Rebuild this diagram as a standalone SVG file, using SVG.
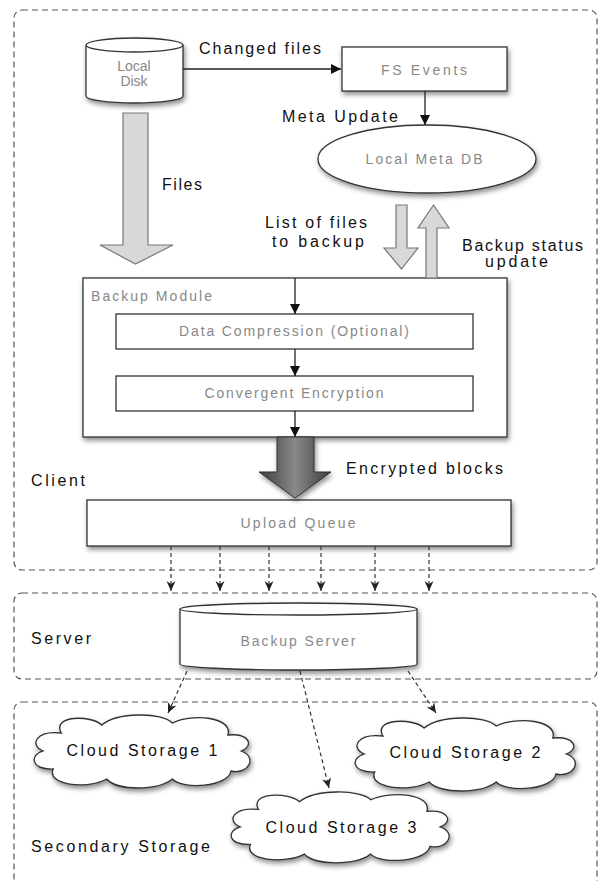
<svg xmlns="http://www.w3.org/2000/svg" width="599" height="881" viewBox="0 0 599 881">
<style>
.grp{fill:none;stroke:#555;stroke-width:1.2;stroke-dasharray:6 4}
.node{fill:#fff;stroke:#333;stroke-width:1.3}
.in{font-family:"Liberation Sans",Arial,sans-serif;font-size:14px;fill:#888;text-anchor:middle}
.lbl{font-family:"Liberation Sans",Arial,sans-serif;font-size:16px;fill:#111}
.lblc{font-family:"Liberation Sans",Arial,sans-serif;font-size:16px;fill:#111;text-anchor:middle}
.solid{stroke:#222;stroke-width:1.3;fill:none;marker-end:url(#ah)}
.dash{stroke:#333;stroke-width:1.2;fill:none;stroke-dasharray:4 3;marker-end:url(#dh)}
.fat{fill:#d8d8d8;stroke:#777;stroke-width:1.2}
</style>
<defs>
<filter id="sh" x="-20%" y="-20%" width="140%" height="150%">
<feDropShadow dx="1.5" dy="3" stdDeviation="2.5" flood-color="#000" flood-opacity="0.45"/>
</filter>
<marker id="ah" markerUnits="userSpaceOnUse" markerWidth="10" markerHeight="10" refX="10" refY="5" orient="auto">
<path d="M0,0 L10,5 L0,10 z" fill="#111"/>
</marker>
<marker id="dh" markerUnits="userSpaceOnUse" markerWidth="10" markerHeight="10" refX="10" refY="5" orient="auto">
<path d="M0,0.5 L10,5 L0,9.5 L3,5 z" fill="#222"/>
</marker>
<linearGradient id="dark" x1="0" y1="0" x2="1" y2="0">
<stop offset="0" stop-color="#3a3a3a"/>
<stop offset="0.5" stop-color="#8a8a8a"/>
<stop offset="1" stop-color="#3a3a3a"/>
</linearGradient>
<path id="cloud" d="M30,18 C20,0 60,0 70,10 C85,-3 130,-3 140,8 C160,-2 200,2 195,20 C215,18 222,30 208,36 C225,42 215,60 198,56 C195,72 150,75 140,64 C125,76 85,76 75,64 C55,75 15,70 22,54 C0,55 -2,40 12,36 C-2,30 5,15 30,18 Z"/>
</defs>
<rect width="599" height="881" fill="#fff"/>

<!-- groups -->
<g id="client-group">
<rect class="grp" x="14" y="10" width="583" height="560" rx="8"/>
<text class="lbl" x="31" y="486" textLength="54" lengthAdjust="spacing">Client</text>
</g>
<g id="server-group">
<rect class="grp" x="14" y="593" width="583" height="86" rx="8"/>
<text class="lbl" x="31" y="644" textLength="60" lengthAdjust="spacing">Server</text>
</g>
<g id="secondary-group">
<rect class="grp" x="14" y="702" width="583" height="200" rx="8"/>
<text class="lbl" x="31" y="852" textLength="179" lengthAdjust="spacing">Secondary Storage</text>
</g>

<!-- nodes -->
<g id="local-disk">
<path class="node" filter="url(#sh)" d="M86,45 A48.5,7 0 0 1 183,45 L183,96 A48.5,7 0 0 1 86,96 Z"/>
<path d="M86,45 A48.5,7 0 0 0 183,45" fill="none" stroke="#333" stroke-width="1.3"/>
<text class="in" x="134" y="71" font-size="13">Local</text>
<text class="in" x="134" y="86" font-size="13">Disk</text>
</g>
<g id="fs-events">
<rect class="node" filter="url(#sh)" x="342" y="47" width="165" height="44"/>
<text class="in" x="424" y="75" textLength="86" lengthAdjust="spacing">FS Events</text>
</g>
<g id="local-meta-db">
<ellipse class="node" filter="url(#sh)" cx="427" cy="159" rx="109" ry="34"/>
<text class="in" x="424" y="164" textLength="117" lengthAdjust="spacing">Local Meta DB</text>
</g>
<g id="backup-module">
<rect class="node" filter="url(#sh)" x="83" y="278" width="424" height="159"/>
<text class="in" x="91" y="301" style="text-anchor:start" textLength="121" lengthAdjust="spacing">Backup Module</text>
</g>
<g id="data-compression">
<rect class="node" x="116" y="314" width="357" height="35"/>
<text class="in" x="294" y="336" textLength="230" lengthAdjust="spacing">Data Compression (Optional)</text>
</g>
<g id="convergent-encryption">
<rect class="node" x="116" y="376" width="357" height="35"/>
<text class="in" x="294" y="398" textLength="179" lengthAdjust="spacing">Convergent Encryption</text>
</g>
<g id="upload-queue">
<rect class="node" filter="url(#sh)" x="87" y="500" width="424" height="46"/>
<text class="in" x="298" y="528" textLength="115" lengthAdjust="spacing">Upload Queue</text>
</g>
<g id="backup-server">
<path class="node" filter="url(#sh)" d="M180,609 A118.5,6 0 0 1 417,609 L417,664 A118.5,6 0 0 1 180,664 Z"/>
<path d="M180,609 A118.5,6 0 0 0 417,609" fill="none" stroke="#333" stroke-width="1.3"/>
<text class="in" x="298" y="646" textLength="115" lengthAdjust="spacing">Backup Server</text>
</g>
<g id="cloud-storage-1">
<use href="#cloud" class="node" filter="url(#sh)" transform="translate(31,715) scale(1.01,1)"/>
<text class="lblc" x="142" y="756" textLength="151" lengthAdjust="spacing">Cloud Storage 1</text>
</g>
<g id="cloud-storage-2">
<use href="#cloud" class="node" filter="url(#sh)" transform="translate(352,718) scale(1.03,1)"/>
<text class="lblc" x="465" y="758" textLength="151" lengthAdjust="spacing">Cloud Storage 2</text>
</g>
<g id="cloud-storage-3">
<use href="#cloud" class="node" filter="url(#sh)" transform="translate(228,792) scale(1.02,0.97)"/>
<text class="lblc" x="341" y="833" textLength="151" lengthAdjust="spacing">Cloud Storage 3</text>
</g>

<!-- connectors -->
<g id="connectors">
<line class="solid" x1="183" y1="69" x2="341" y2="69"/>
<text class="lbl" x="199" y="54" textLength="122" lengthAdjust="spacing">Changed files</text>
<line class="solid" x1="425" y1="91" x2="425" y2="125"/>
<text class="lbl" x="282" y="122" textLength="116" lengthAdjust="spacing">Meta Update</text>

<path class="fat" d="M123,113 L148,113 L148,245 L173,245 L135.5,264 L100,245 L123,245 Z"/>
<text class="lbl" x="162" y="190" textLength="40" lengthAdjust="spacing">Files</text>

<path class="fat" d="M396,205 L407,205 L407,248 L418,248 L401.5,269 L384,248 L396,248 Z"/>
<text class="lbl" x="265" y="228" textLength="102" lengthAdjust="spacing">List of files</text>
<text class="lbl" x="272" y="247" textLength="92" lengthAdjust="spacing">to backup</text>
<path class="fat" d="M426,278 L437,278 L437,228 L449,228 L433.5,205 L418,228 L426,228 Z"/>
<text class="lbl" x="462" y="251" textLength="121" lengthAdjust="spacing">Backup status</text>
<text class="lbl" x="485" y="267" textLength="63" lengthAdjust="spacing">update</text>

<line class="solid" x1="295" y1="278" x2="295" y2="314"/>
<line class="solid" x1="295" y1="349" x2="295" y2="376"/>
<line class="solid" x1="295" y1="411" x2="295" y2="437"/>

<path d="M277,437 L314,437 L314,472 L331,472 L295,498 L259,472 L277,472 Z" fill="url(#dark)" stroke="#333" stroke-width="1" filter="url(#sh)"/>
<text class="lbl" x="346" y="474" textLength="157" lengthAdjust="spacing">Encrypted blocks</text>

<line class="dash" x1="171" y1="546" x2="171" y2="591"/>
<line class="dash" x1="220" y1="546" x2="220" y2="591"/>
<line class="dash" x1="269" y1="546" x2="269" y2="591"/>
<line class="dash" x1="321" y1="546" x2="321" y2="591"/>
<line class="dash" x1="375" y1="546" x2="375" y2="591"/>
<line class="dash" x1="429" y1="546" x2="429" y2="591"/>

<line class="dash" x1="187" y1="671" x2="168" y2="713"/>
<line class="dash" x1="300" y1="671" x2="329" y2="788"/>
<line class="dash" x1="408" y1="671" x2="436" y2="713"/>
</g>
</svg>
